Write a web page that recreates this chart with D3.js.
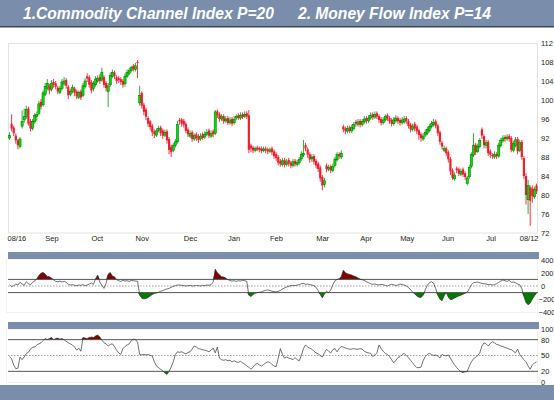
<!DOCTYPE html>
<html>
<head>
<meta charset="utf-8">
<script src="https://cdn.jsdelivr.net/npm/d3@7/dist/d3.min.js"></script>
<style>
  body { margin: 0; background: #fff; }
  text { font-family: "Liberation Sans", Arial, sans-serif; }
</style>
</head>
<body>
<div id="chart"></div>
<script>
// daily candles, 08/16 .. 08/12
const opens = [92,95,94.2,92.5,91.5,90.2,94.5,95.8,96.5,98.2,95.5,94,95.4,96.5,97.2,99.6,99,101.2,102.5,103,
  102.2,103.8,103.5,102.6,101.6,102.4,103.4,104.2,102.8,101.2,101.8,102.4,101.8,100.6,101.8,101,102.8,105,104.8,103.8,
  102.4,103.2,104,104.8,104.2,104.8,103.6,101.8,103.2,105,105.8,104.8,104.6,104.4,104,103.4,105,105.6,106.2,107.2,
  106.4,108,99.4,101.5,99,98,96.2,95.5,94.6,93.4,92.6,93.6,94.2,93.6,92.6,93.4,91.8,90.2,89.4,90.4,
  91.2,95.8,95.9,95.6,95,93.8,92.4,93.2,91.8,92.8,92.4,91.8,92.8,92.2,92.8,93.6,92.4,93.4,93,97.6,
  97,96,96.6,95.6,96.2,95.2,96,95.2,96.2,96.8,96.2,97,96.6,97.2,96.8,90.4,90,89.4,90,89.9,
  89.8,89.3,89.8,89.6,89.2,89.8,89.2,88.6,88,87.2,86.4,87.4,86.4,87.4,86.8,86.2,87.2,86.4,86.8,87.6,
  88.4,90.5,89.6,88.6,87.6,88.2,87.2,86.6,85.8,83.8,82.2,86.2,85.4,86,85.2,86.2,87.4,88.6,88,94.4,
  94,93.4,94.2,93.5,94,95.4,94.8,95.6,94.8,95.4,96.2,95.6,96.2,97,96.4,97.2,96.6,96,95.2,95.8,
  96.8,96.2,95.8,95,95.6,96.2,95.8,95.2,95.4,96.2,95.6,94.8,93.8,95,94.4,93.6,92.8,91.8,92.6,93,
  93.6,94.4,94.8,95.5,94.6,93.2,91,89.4,89.8,89,87.6,85.2,83.4,85.6,85.4,84.4,85.4,84.6,82.4,83.8,
  86,88.4,90.6,89.2,90.2,93.8,92.4,90.4,91.2,89.2,88.4,88,88.6,88.2,90.4,91.4,92.2,91.8,92.4,92,
  89.4,90.4,91.8,89.4,91.2,87.8,84,79,81.6,81.4,79.6,82]
const highs = [93.2,97,94.6,93,91.8,92.2,97.8,98.2,98.8,98.6,96,96,97.2,97.6,99.8,100.2,102,103.6,104.4,103.4,
  104.2,104.4,104,103,103,104.4,104.8,104.6,103.2,102.4,103.2,102.8,102.2,102,102.2,103.6,104.6,105.6,105.2,104.2,
  104,105,105.2,105.4,106.8,105.2,104,103.6,105.8,106.4,106.2,105.2,105,104.8,104.4,105.6,106.4,106.8,107.2,107.6,
  107.8,108.4,103,101.8,99.4,98.4,96.6,95.8,95,93.8,94,94.6,94.6,94,93.8,93.8,92.2,90.6,91,91.8,
  95.6,96.2,96.2,96,95.4,94.2,93.6,93.6,93,93.2,92.8,93,93.2,93.4,93.8,94,93.6,93.8,97.9,98,
  97.4,97,97,96.6,96.6,96.4,96.4,96.6,97,97.2,97.4,97.4,97.6,97.6,97.9,90.8,90.4,90.2,90.4,90.2,
  90.2,90.2,90.2,90,90,90.2,89.6,89,88.4,87.6,87.8,87.8,87.6,87.8,87.2,87.6,87.6,87.4,88,89.2,
  91.6,91,90,89,88.6,88.6,87.6,87,86.2,84.2,83.6,86.6,86.4,86.4,86.6,88,89,89,89.4,94.8,
  94.4,94.6,94.6,94.8,95.4,95.8,96,96,96,96.6,96.6,96.8,97.4,97.4,97.6,97.6,97,96.4,96.4,97,
  97.2,96.6,96.2,96.4,96.8,96.6,96.2,96.4,96.6,96.6,96,95.2,95,95.4,94.8,94,93.2,93,93.8,94.4,
  95,95.6,96,95.9,95,93.6,91.4,90.4,90.2,89.4,88,85.6,84.8,86,85.8,85.6,85.8,85,84,86.4,
  89,93,91,90.8,92,94.2,92.8,91.6,91.6,89.6,88.8,89.2,89,91,92,92.6,92.6,92.8,92.8,92.4,
  91.4,92.2,92.2,91.6,91.6,88.2,84.6,83.2,82,82,81.8,82.4]
const lows = [91.6,93.4,92.4,90.8,89.6,89.8,94,95.2,96,94.6,93.4,93.6,95,95.6,96.8,98,98.6,100.8,102,101.2,
  101.8,102.6,102.2,101.2,101.2,102,103,102.4,100.2,100.8,101.4,100.8,100.2,100.2,100,100.6,102.4,103.8,102.6,101.4,
  101.8,102.8,103.6,103.4,103.8,102.6,101.8,98.5,102.8,104.6,104.4,103.4,103.6,103.2,102.6,102.8,104.6,105.2,105.8,106,
  106,104.6,98.8,98.2,96.8,95.8,94.4,93.6,92.4,92,92.2,93.2,92.4,91.8,92.2,90.8,88.6,88,89,90,
  90.8,94.8,94.4,94.2,93,92.2,92,91.2,91.4,91.4,91,91.4,91.6,91.8,92.4,92,92,92.2,92.6,96.2,
  95.4,95.6,95,95.2,94.7,94.8,94.5,94.8,95.8,95.8,95.8,96,96.2,96,88.8,89,88.8,89,89.2,89,
  88.8,89,88.8,88.6,88.8,88.4,87.6,87.2,86.2,86,86,85.8,86,86,85.6,85.8,86,86,86.4,87.2,
  88,89.2,87.8,86.8,87,86.4,85.6,84.8,82.8,81,81.6,84.8,85,84.6,84.8,85.8,87,87.6,87.6,93.2,
  92.8,93,93,93,93.6,94.4,94.4,94.2,94.4,95,95,95.2,95.8,95.8,96,96,95.2,94.6,94.8,95.4,
  95.6,95,94.4,94.6,95.2,95,94.6,94.8,95,95,94,93.2,93.4,93.4,92.8,91.6,91.2,91.4,92.2,92.6,
  93.2,94,94.4,94,92.4,90.6,89.6,89,88.2,86.8,84.2,83.2,83,84.6,84,84,83.8,83.2,82,83.4,
  85.6,88,88.4,88.8,89.8,91.8,89.8,89.8,88.2,87.8,87.6,87.6,87.6,87.8,90,91,91.2,91.4,91.2,89,
  89,90,88.6,89,87.4,83.4,78,76,73.5,78.4,79.2,80.2]
const closes = [92.5,94,93,91.5,90.5,91.8,95.5,96.5,98,95,94,95.5,96.8,97,99.2,98.6,101.5,102.8,103.5,102,
  103.5,103.2,102.8,101.8,102.4,103.8,104,103,101,101.8,102.6,101.5,100.8,101.6,100.5,103,104,104.5,103.2,102,
  103.5,104.4,104.6,104,105.8,103.2,102.5,103,105.2,105.8,105,104,104.2,103.8,103.2,105,105.8,106.2,106.8,106.5,
  107.2,107.8,101,98.8,97.5,96.5,95,94.3,93.2,92.8,93.5,94,93,92.5,93.2,91.5,89.5,89,90.5,91.2,
  94.8,95.5,95,94.8,93.5,92.8,93,91.8,92.5,92,91.6,92.4,92,92.8,93.2,92.5,93,92.8,97.5,96.8,
  96,96.5,95.5,96,95.2,95.8,95,96,96.5,96.2,96.8,96.4,97,96.5,89.5,89.8,89.4,89.8,89.6,89.5,
  89.3,89.7,89.4,89.2,89.5,89,88.2,87.8,86.8,86.5,87.2,86.4,87,86.6,86.2,87,86.5,86.8,87.5,88.6,
  88.8,89.8,88.5,87.5,88,87,86.2,85.5,83.5,82,83,85.5,85.8,85.2,86,87.5,88.5,88.2,88.8,93.8,
  93.5,94,93.5,94.2,94.8,95,95.4,94.8,95.5,96,95.6,96.2,96.8,96.4,97,96.5,95.8,95.2,95.8,96.5,
  96.2,95.5,95,95.8,96.2,95.5,95.2,95.8,96,95.6,94.5,93.8,94.5,94,93.4,92.6,92,92.4,93.2,93.8,
  94.4,95,95.3,94.5,93,91.2,90.2,89.8,88.8,87.5,85,83.6,84.2,85.2,84.5,85,84.3,83.8,83.6,85.8,
  88.5,90.5,89,90.2,91.5,92.5,90.5,91,88.8,88.5,88.2,88.6,88.2,90.5,91.5,92,91.8,92.2,91.8,89.5,
  90.8,91.6,89.2,91,88,84,80,82,78.8,79.8,81.2,80.8]

// Commodity Channel Index, P=20
const cci = [20,-10,5,30,15,55,30,10,65,35,20,55,75,110,160,195,205,180,145,140,
  120,95,70,65,75,60,70,55,25,15,20,10,5,15,10,20,5,15,30,45,
  25,110,165,60,10,-35,40,180,205,150,140,95,80,70,85,75,80,70,85,80,
  75,70,-140,-185,-195,-190,-175,-150,-130,-115,-105,-95,-80,-70,-55,-45,-35,-20,-5,5,
  15,15,10,5,0,5,10,0,5,10,5,0,10,5,15,10,20,60,255,200,
  170,140,135,120,95,85,75,80,70,80,75,85,80,70,-140,-160,-130,-110,-100,-95,
  -90,-75,-65,-60,-65,-80,-85,-90,-80,-70,-45,-30,-15,-5,5,10,5,15,20,35,
  40,25,30,20,15,5,-20,-70,-130,-180,-120,-80,-105,-60,20,80,100,110,145,240,
  200,185,175,165,150,140,120,105,95,85,65,50,35,25,30,20,15,25,20,10,
  0,15,25,20,5,15,30,20,15,0,-20,-60,-90,-120,-150,-170,-175,-140,-60,10,
  50,65,40,-40,-140,-200,-225,-150,-95,-170,-210,-200,-180,-165,-150,-140,-125,-110,-95,-40,
  20,50,55,60,50,40,35,30,20,25,15,20,35,55,75,90,80,70,85,55,
  60,50,30,20,-40,-160,-250,-285,-260,-200,-150,-110]

// Money Flow Index, P=14
const mfi = [48,44,32,25,26,47,42,47,54,56,62,66,66,70,72,74,78,82,80,82,
  84,80,82,83,81,82,80,77,74,72,70,66,60,64,58,84,83,82,84,85,
  84,87,89,85,79,74,72,68,71,72,67,60,55,52,63,67,70,72,78,81,
  80,75,52,51,52,51,52,50,49,38,30,27,24,21,17,14,20,28,38,52,
  57,56,57,55,53,56,57,62,68,66,63,62,61,60,59,57,60,64,55,66,
  45,42,41,42,40,41,38,40,38,37,39,36,34,30,28,24,28,33,35,32,
  30,33,36,38,37,33,30,29,45,63,52,45,47,45,44,42,46,42,40,50,
  63,70,66,64,62,58,55,53,50,47,55,62,58,55,61,63,57,63,67,66,
  64,63,62,62,63,62,62,63,62,58,56,55,54,48,51,55,70,63,58,54,
  52,48,42,36,41,46,48,52,54,50,46,41,36,31,27,27,28,40,48,52,
  54,52,50,51,49,45,52,50,49,51,45,38,32,27,23,19,18,19,20,30,
  38,44,46,50,55,68,74,72,68,73,76,74,71,70,68,67,65,64,62,61,
  58,55,62,52,47,42,38,30,24,32,36,38]

// date axis
const tickLabels = ["08/16","Sep","Oct","Nov","Dec","Jan","Feb","Mar","Apr","May","Jun","Jul","08/12"]
const tickIndex = [0,18,40,61,84,105,125,147,168,187,207,228,251]

const priceTicks = [72,76,80,84,88,92,96,100,104,108,112]
const cciTicks = [-400,-200,0,200,400]
const mfiTicks = [0,20,50,80,100]

const W = 554, H = 400
const left = 8, right = 538
const bandColor = "#7a8eab"

const svg = d3.select("#chart")
  .append("svg")
    .attr("width", W)
    .attr("height", H)

// header bar with titles
svg.append("rect").attr("x", 0).attr("y", 0).attr("width", W).attr("height", 26).attr("fill", bandColor)
svg.append("rect").attr("x", 0).attr("y", 26).attr("width", W).attr("height", 1.5).attr("fill", "#3a4858")
svg.append("text").attr("x", 23).attr("y", 19)
  .attr("fill", "#fff").attr("font-size", "15.6px").attr("font-weight", "bold").attr("font-style", "italic")
  .text("1.Commodity Channel Index P=20")
svg.append("text").attr("x", 298).attr("y", 19)
  .attr("fill", "#fff").attr("font-size", "15.6px").attr("font-weight", "bold").attr("font-style", "italic")
  .text("2. Money Flow Index P=14")

// separator bars
svg.append("rect").attr("x", left).attr("y", 252).attr("width", right - left + 1).attr("height", 7).attr("fill", bandColor)
svg.append("rect").attr("x", left).attr("y", 322).attr("width", right - left + 1).attr("height", 7).attr("fill", bandColor)
svg.append("rect").attr("x", 0).attr("y", 385).attr("width", W).attr("height", 15).attr("fill", bandColor)

const n = closes.length
const x = d3.scaleLinear().domain([0, n - 1]).range([9.5, 536.5])

const yP = d3.scaleLinear().domain([72, 112]).range([233, 43])
const yC = d3.scaleLinear().domain([-400, 400]).range([312.4, 259.6])
const yM = d3.scaleLinear().domain([0, 100]).range([381.9, 329.1])

// panel frames
svg.append("rect").attr("x", left + 0.5).attr("y", 43.5).attr("width", right - left - 1).attr("height", 189.5)
  .attr("fill", "none").attr("stroke", "#e4e4e4")
svg.append("rect").attr("x", left - 1.5).attr("y", 259.5).attr("width", right - left + 1).attr("height", 53)
  .attr("fill", "none").attr("stroke", "#f2f2f2")
svg.append("rect").attr("x", left - 1.5).attr("y", 329.5).attr("width", right - left + 1).attr("height", 53)
  .attr("fill", "none").attr("stroke", "#f2f2f2")

function rightAxis(scale, ticks) {
  const g = svg.append("g")
    .attr("transform", `translate(${right}, 0)`)
    .call(d3.axisRight(scale).tickValues(ticks).tickSize(0).tickPadding(3))
  g.select(".domain").remove()
  g.selectAll("text").attr("font-size", "7.5px").attr("fill", "#222")
    .attr("font-family", "'Liberation Sans', Arial, sans-serif")
    .attr("dx", d => d < 0 ? -2.5 : 0)
}
rightAxis(yP, priceTicks)
rightAxis(yC, cciTicks)
rightAxis(yM, mfiTicks)

// date labels
const xAxis = svg.append("g")
  .attr("transform", "translate(0, 234)")
  .call(d3.axisBottom(x).tickValues(tickIndex).tickSize(0).tickPadding(2)
    .tickFormat((d, i) => tickLabels[i]))
xAxis.select(".domain").remove()
xAxis.selectAll("text")
  .attr("font-size", "7.5px").attr("fill", "#222")
  .attr("font-family", "'Liberation Sans', Arial, sans-serif")
  .attr("text-anchor", (d, i) => i === tickIndex.length - 1 ? "end" : "start")
  .attr("dx", (d, i) => i === tickIndex.length - 1 ? "1.5" : "-2.5")

// candles
const idx = d3.range(n)
const up = i => closes[i] >= opens[i]
const bw = 2.2

svg.append("g").selectAll("line")
  .data(idx)
  .join("line")
    .attr("x1", i => x(i)).attr("x2", i => x(i))
    .attr("y1", i => yP(highs[i])).attr("y2", i => yP(lows[i]))
    .attr("stroke", i => up(i) ? "#1e9e1e" : "#ee2030")
    .attr("stroke-width", 0.9)

svg.append("g").selectAll("rect")
  .data(idx)
  .join("rect")
    .attr("x", i => x(i) - bw / 2)
    .attr("y", i => yP(Math.max(opens[i], closes[i])))
    .attr("width", bw)
    .attr("height", i => Math.max(0.9, Math.abs(yP(opens[i]) - yP(closes[i]))))
    .attr("fill", i => up(i) ? "#00dd00" : "#ee2030")
    .attr("stroke", i => up(i) ? "#006a00" : "none")
    .attr("stroke-width", 0.5)

// oscillator panels
function oscillator(values, scale, hi, mid, lo) {
  const level = v => svg.append("line")
    .attr("x1", left).attr("x2", right)
    .attr("y1", scale(v)).attr("y2", scale(v))

  svg.append("path").datum(values)
    .attr("fill", "#800000")
    .attr("d", d3.area().x((d, i) => x(i)).y0(scale(hi)).y1(d => scale(Math.max(d, hi))))
  svg.append("path").datum(values)
    .attr("fill", "#007a00")
    .attr("d", d3.area().x((d, i) => x(i)).y0(scale(lo)).y1(d => scale(Math.min(d, lo))))

  level(hi).attr("stroke", "#555").attr("stroke-width", 1)
  level(lo).attr("stroke", "#555").attr("stroke-width", 1)
  level(mid).attr("stroke", "#888").attr("stroke-width", 0.8).attr("stroke-dasharray", "1.5,1.5")

  svg.append("path").datum(values)
    .attr("fill", "none")
    .attr("stroke", "#333")
    .attr("stroke-width", 0.7)
    .attr("d", d3.line().x((d, i) => x(i)).y(d => scale(d)))
}
oscillator(cci, yC, 100, 0, -100)
oscillator(mfi, yM, 80, 50, 20)
</script>
</body>
</html>
